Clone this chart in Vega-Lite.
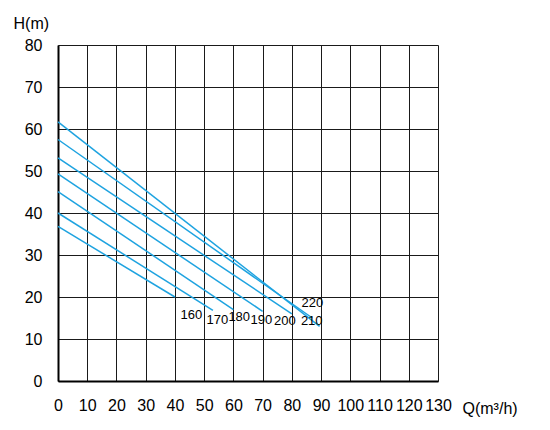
{
  "$schema": "https://vega.github.io/schema/vega-lite/v6.json",
  "autosize": "none",
  "width": 380,
  "height": 336,
  "padding": {"left": 58, "top": 45, "right": 112, "bottom": 49},
  "background": "white",
  "config": {
    "font": "Liberation Sans",
    "view": {"stroke": null},
    "axis": {
      "grid": true,
      "gridColor": "#1a1a1a",
      "gridOpacity": 1,
      "gridWidth": 1,
      "domainColor": "#000000",
      "domainWidth": 2,
      "ticks": false,
      "labelFontSize": 16,
      "labelColor": "#000000",
      "labelFont": "Liberation Sans",
      "titleFont": "Liberation Sans",
      "titleFontSize": 16,
      "titleFontWeight": "normal",
      "titleColor": "#000000"
    }
  },
  "layer": [
    {
      "data": {
        "values": [
          {"rpm": "160", "Q": 0, "H": 36.8},
          {"rpm": "160", "Q": 40, "H": 20},
          {"rpm": "170", "Q": 0, "H": 40},
          {"rpm": "170", "Q": 53, "H": 16.8},
          {"rpm": "180", "Q": 0, "H": 45.1},
          {"rpm": "180", "Q": 60, "H": 17},
          {"rpm": "190", "Q": 0, "H": 49.3},
          {"rpm": "190", "Q": 70, "H": 16.6},
          {"rpm": "200", "Q": 0, "H": 53.1},
          {"rpm": "200", "Q": 80, "H": 16},
          {"rpm": "210", "Q": 0, "H": 57.5},
          {"rpm": "210", "Q": 87, "H": 15},
          {"rpm": "220", "Q": 0, "H": 61.7},
          {"rpm": "220", "Q": 89.5, "H": 13}
        ]
      },
      "mark": {"type": "line", "color": "#1ea3e0", "strokeWidth": 1.5},
      "encoding": {
        "x": {
          "field": "Q",
          "type": "quantitative",
          "scale": {"domain": [0, 130], "nice": false},
          "axis": {
            "values": [0, 10, 20, 30, 40, 50, 60, 70, 80, 90, 100, 110, 120, 130],
            "labelOverlap": false,
            "labelFlush": false,
            "labelBound": false,
            "labelPadding": 16,
            "labelBaseline": "top",
            "title": "Q(m³/h)",
            "titleAnchor": "start",
            "titleAlign": "left",
            "titleBaseline": "middle",
            "titleX": 404,
            "titleY": 27
          }
        },
        "y": {
          "field": "H",
          "type": "quantitative",
          "scale": {"domain": [0, 80], "nice": false},
          "axis": {
            "values": [0, 10, 20, 30, 40, 50, 60, 70, 80],
            "labelPadding": 16,
            "title": "H(m)",
            "titleAngle": 0,
            "titleAnchor": "start",
            "titleAlign": "left",
            "titleBaseline": "middle",
            "titleX": -45,
            "titleY": -22
          }
        },
        "detail": {"field": "rpm", "type": "nominal"}
      }
    },
    {
      "data": {
        "values": [
          {"label": "160", "Q": 45.6, "H": 15.6},
          {"label": "170", "Q": 54.5, "H": 14.6},
          {"label": "180", "Q": 62, "H": 15.2},
          {"label": "190", "Q": 69.6, "H": 14.5},
          {"label": "200", "Q": 77.6, "H": 14.2},
          {"label": "210", "Q": 86.8, "H": 14.2},
          {"label": "220", "Q": 87, "H": 18.6}
        ]
      },
      "mark": {"type": "text", "fontSize": 13, "color": "#000000", "baseline": "middle", "align": "center"},
      "encoding": {
        "x": {
          "field": "Q",
          "type": "quantitative",
          "axis": {
            "values": [0, 10, 20, 30, 40, 50, 60, 70, 80, 90, 100, 110, 120, 130],
            "labelOverlap": false,
            "labelFlush": false,
            "labelBound": false,
            "labelPadding": 16,
            "labelBaseline": "top",
            "title": "Q(m³/h)",
            "titleAnchor": "start",
            "titleAlign": "left",
            "titleBaseline": "middle",
            "titleX": 404,
            "titleY": 27
          }
        },
        "y": {
          "field": "H",
          "type": "quantitative",
          "axis": {
            "values": [0, 10, 20, 30, 40, 50, 60, 70, 80],
            "labelPadding": 16,
            "title": "H(m)",
            "titleAngle": 0,
            "titleAnchor": "start",
            "titleAlign": "left",
            "titleBaseline": "middle",
            "titleX": -45,
            "titleY": -22
          }
        },
        "text": {"field": "label"}
      }
    }
  ]
}
